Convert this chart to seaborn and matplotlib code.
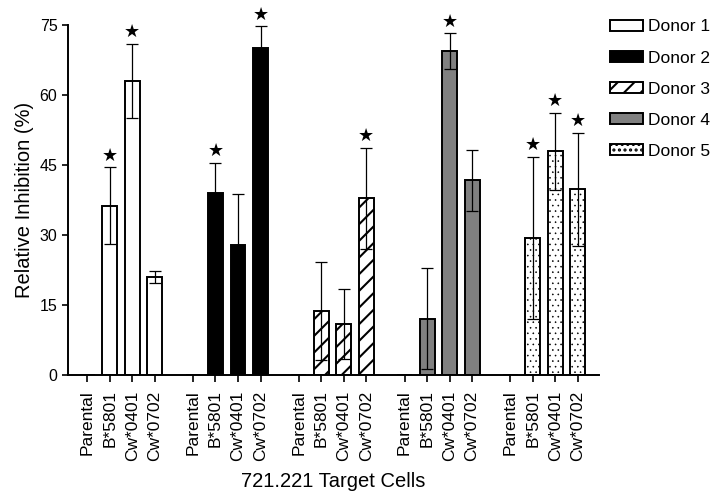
import numpy as np
import pandas as pd
import matplotlib
matplotlib.use('Agg')
import matplotlib.pyplot as plt
import seaborn as sns

# values
donors = ['Donor 1', 'Donor 2', 'Donor 3', 'Donor 4', 'Donor 5']
cells = ['Parental', 'B*5801', 'Cw*0401', 'Cw*0702']

inhibition = [
    [0, 36.3, 63.0, 21.0],
    [0, 38.9, 27.8, 70.1],
    [0, 13.8, 10.9, 37.9],
    [0, 12.1, 69.4, 41.7],
    [0, 29.4, 47.9, 39.8],
]
errors = [
    [0, 8.2, 8.0, 1.3],
    [0, 6.5, 11.0, 4.6],
    [0, 10.5, 7.5, 10.8],
    [0, 10.8, 3.8, 6.5],
    [0, 17.4, 8.3, 12.1],
]
significant = [
    [False, True, True, False],
    [False, True, False, True],
    [False, False, False, True],
    [False, False, True, False],
    [False, True, True, True],
]

face_colors = ['white', 'black', 'white', '#808080', 'white']
hatches = ['', '', '//', '', '...']
hatch_widths = [1.5, 1.5, 1.5, 1.5, 0.4]

GROUP_STEP = 4.7

sns.set_style('ticks')
plt.rcParams['font.family'] = ['Liberation Sans', 'DejaVu Sans']
plt.rcParams['hatch.linewidth'] = 1.5
for k in ['text.color', 'axes.labelcolor', 'xtick.color', 'ytick.color', 'axes.edgecolor']:
    plt.rcParams[k] = 'black'

rows = []
for g, donor in enumerate(donors):
    for j, cell in enumerate(cells):
        rows.append({'donor': donor, 'cell': cell, 'pos': g * GROUP_STEP + j,
                     'value': inhibition[g][j], 'err': errors[g][j],
                     'star': significant[g][j]})
df = pd.DataFrame(rows)

fig = plt.figure(figsize=(7.14, 4.99), dpi=100)
ax = fig.add_axes([0.095, 0.2485, 0.744, 0.7015])

sns.barplot(data=df, x='pos', y='value', hue='donor', native_scale=True,
            dodge=False, width=0.66, palette=dict(zip(donors, face_colors)),
            edgecolor='black', linewidth=1.4, errorbar=None, legend=False, ax=ax)

for cont, h, hw in zip(ax.containers, hatches, hatch_widths):
    for bar in cont:
        bar.set_hatch(h)
        if hasattr(bar, 'set_hatch_linewidth'):
            bar.set_hatch_linewidth(hw)

shown = df[df['value'] > 0]
ax.errorbar(shown['pos'], shown['value'], yerr=shown['err'], fmt='none',
            ecolor='black', elinewidth=0.9, capsize=4.5, capthick=0.9, zorder=3)

for _, r in df[df['star']].iterrows():
    ax.annotate('\u2605', (r['pos'], r['value'] + r['err']), xytext=(0, 2),
                textcoords='offset points', ha='center', va='bottom',
                fontsize=13, family=['DejaVu Sans'])

ax.set_xlim(-0.86, 22.74)
ax.set_ylim(0, 75)
ax.set_yticks([0, 15, 30, 45, 60, 75])
ax.set_xticks(df['pos'])
ax.set_xticklabels(df['cell'], rotation=90, fontsize=12.5)
ax.tick_params(axis='y', labelsize=11.5, length=4, width=1.2)
ax.tick_params(axis='x', length=5, width=1.2, pad=6)
ax.set_ylabel('Relative Inhibition (%)', fontsize=14.5)
ax.set_xlabel('721.221 Target Cells', fontsize=14.5, labelpad=8)
for s in ['left', 'bottom']:
    ax.spines[s].set_linewidth(1.4)
sns.despine(ax=ax)

handles = [cont[1] for cont in ax.containers]
fig.legend(handles, donors, loc='upper left', bbox_to_anchor=(0.845, 0.975),
           frameon=False, fontsize=12.5, handlelength=1.9, handleheight=0.6,
           handletextpad=0.25, labelspacing=0.93, borderaxespad=0)

fig.savefig('out.png', dpi=100)
